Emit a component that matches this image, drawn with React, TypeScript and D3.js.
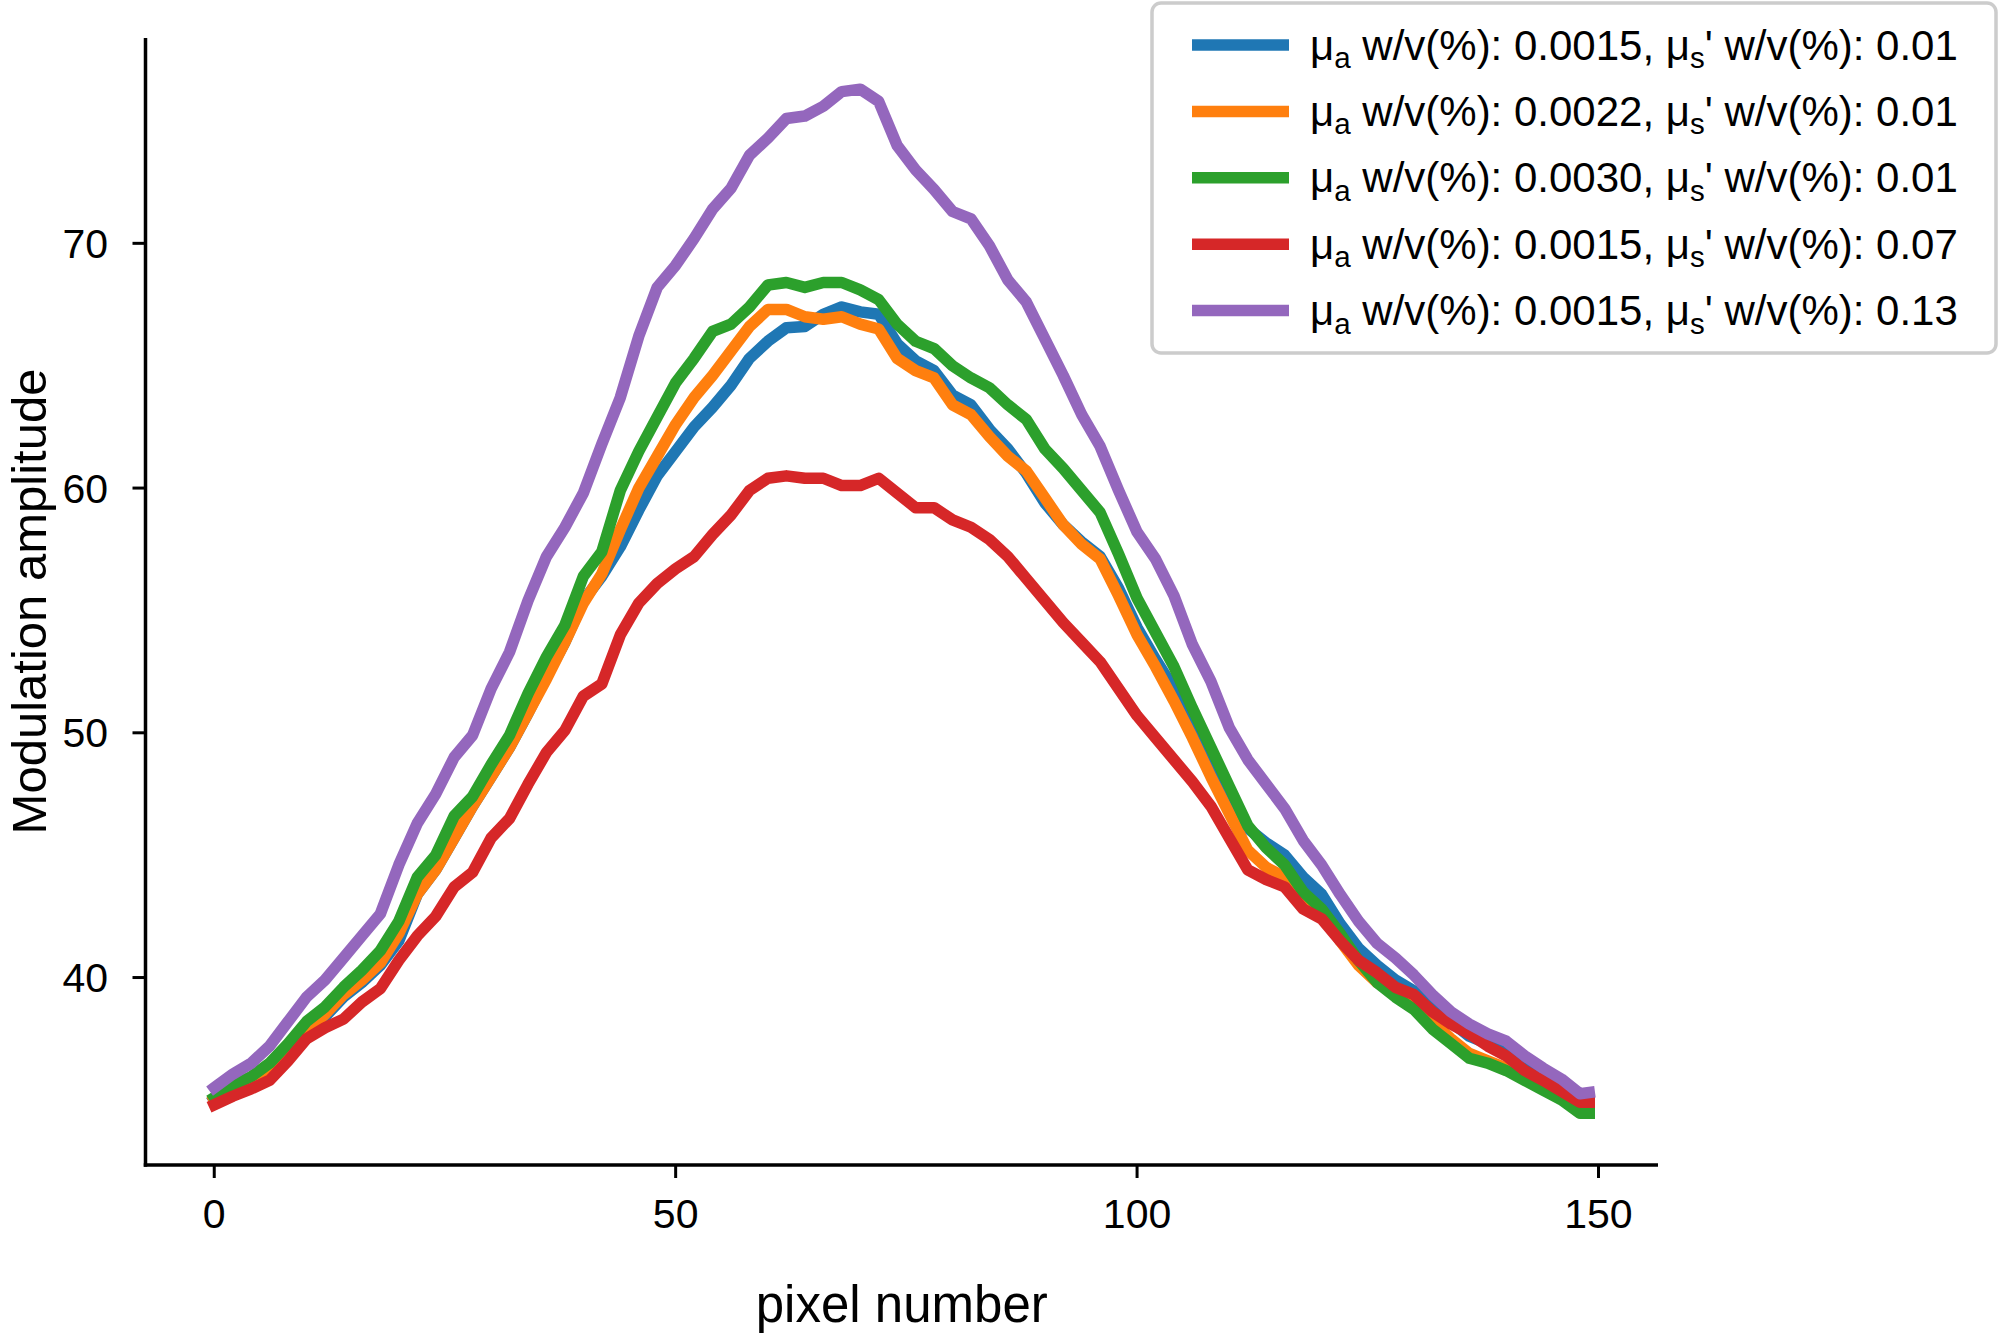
import React from 'react';
import * as d3 from 'd3';

const pixelIndex = [0,2,4,6,8,10,12,14,16,18,20,22,24,26,28,30,32,34,36,38,40,42,44,46,48,50,52,54,56,58,60,62,64,66,68,70,72,74,76,78,80,82,84,86,88,90,92,94,96,98,100,102,104,106,108,110,112,114,116,118,120,122,124,126,128,130,132,134,136,138,140,142,144,146,148,149];

const seriesMua0015Mus001 = [35.0,35.5,35.9,36.4,37.2,37.9,38.4,39.2,39.8,40.5,
  41.5,43.4,44.4,45.7,47.0,48.2,49.4,50.8,52.3,53.7,
  55.4,56.4,57.6,59.1,60.5,61.5,62.5,63.3,64.2,65.3,
  66.0,66.55,66.6,67.1,67.4,67.2,67.1,65.9,65.2,64.8,
  63.8,63.4,62.4,61.6,60.6,59.4,58.5,57.8,57.2,55.9,
  54.3,53.0,51.8,50.3,48.8,47.6,46.1,45.5,45.0,44.1,
  43.4,42.2,41.2,40.5,39.9,39.45,38.8,38.2,37.6,37.3,
  36.9,36.4,35.9,35.5,35.0,35.0];

const seriesMua0022Mus001 = [35.0,35.4,35.8,36.3,37.1,37.8,38.5,39.3,39.9,40.6,
  41.8,43.4,44.4,45.7,47.0,48.2,49.4,50.8,52.2,53.7,
  55.3,56.5,58.3,60.0,61.3,62.6,63.7,64.6,65.6,66.6,
  67.3,67.3,67.0,66.9,67.0,66.7,66.5,65.3,64.8,64.5,
  63.4,63.0,62.1,61.3,60.7,59.6,58.5,57.7,57.1,55.6,
  54.0,52.7,51.3,49.8,48.2,46.7,45.2,44.5,44.1,43.3,
  42.6,41.5,40.5,39.8,39.4,38.9,38.2,37.5,36.9,36.6,
  36.3,35.9,35.5,35.1,34.8,34.8];

const seriesMua0030Mus001 = [35.1,35.6,35.95,36.5,37.3,38.2,38.8,39.6,40.3,41.1,
  42.3,44.1,45.0,46.6,47.4,48.7,49.9,51.6,53.1,54.4,
  56.4,57.4,59.9,61.5,62.9,64.3,65.3,66.4,66.7,67.4,
  68.3,68.4,68.2,68.4,68.4,68.1,67.7,66.7,66.0,65.7,
  65.0,64.5,64.1,63.4,62.8,61.6,60.8,59.9,59.0,57.3,
  55.5,54.1,52.7,51.0,49.4,47.8,46.2,45.3,44.6,43.5,
  42.8,41.8,40.7,39.8,39.2,38.7,37.9,37.3,36.7,36.5,
  36.2,35.8,35.4,35.0,34.45,34.45];

const seriesMua0015Mus007 = [34.8,35.15,35.45,35.8,36.6,37.5,37.95,38.3,39.0,39.55,
  40.7,41.7,42.5,43.7,44.3,45.7,46.5,47.9,49.2,50.1,
  51.5,52.0,54.0,55.3,56.1,56.7,57.2,58.1,58.9,59.9,
  60.4,60.5,60.4,60.4,60.1,60.1,60.4,59.8,59.2,59.2,
  58.7,58.4,57.9,57.2,56.3,55.4,54.5,53.7,52.9,51.8,
  50.7,49.8,48.9,48.0,47.0,45.7,44.4,44.0,43.7,42.8,
  42.4,41.5,40.7,40.2,39.6,39.3,38.6,38.1,37.7,37.2,
  36.8,36.2,35.8,35.35,34.9,34.9];

const seriesMua0015Mus013 = [35.5,36.05,36.5,37.2,38.2,39.2,39.9,40.8,41.7,42.6,
  44.6,46.3,47.5,49.0,49.9,51.8,53.3,55.4,57.2,58.4,
  59.8,61.8,63.7,66.2,68.2,69.1,70.2,71.4,72.25,73.6,
  74.3,75.1,75.2,75.6,76.2,76.3,75.8,74.0,73.0,72.2,
  71.3,71.0,69.9,68.5,67.6,66.1,64.6,63.0,61.7,59.9,
  58.2,57.1,55.6,53.6,52.1,50.2,48.9,47.9,46.9,45.6,
  44.6,43.4,42.3,41.4,40.8,40.1,39.3,38.6,38.1,37.7,
  37.4,36.8,36.3,35.85,35.25,35.3];

const seriesValues = [seriesMua0015Mus001, seriesMua0022Mus001, seriesMua0030Mus001, seriesMua0015Mus007, seriesMua0015Mus013];
const muaLabels = ['0.0015', '0.0022', '0.0030', '0.0015', '0.0015'];
const musLabels = ['0.01', '0.01', '0.01', '0.07', '0.13'];
const seriesColors = ['#1f77b4', '#ff7f0e', '#2ca02c', '#d62728', '#9467bd'];
const xTicks = [0, 50, 100, 150];
const yTicks = [40, 50, 60, 70];
const xLabel = 'pixel number';
const yLabel = 'Modulation amplitude';

const FONT = '"Liberation Sans", Arial, Helvetica, sans-serif';

export default function App() {
  const W = 2000, H = 1335;
  const left = 145.5, right = 1658, top = 38, bottom = 1165;
  const xScale = d3.scaleLinear().domain([-7.45, 156.45]).range([left, right]);
  const yScale = d3.scaleLinear().domain([32.34, 78.39]).range([bottom, top]);
  const line = d3.line<[number, number]>().x(d => xScale(d[0])).y(d => yScale(d[1]));

  const legendX = 1152, legendY = 3, legendW = 844, legendH = 350;
  const rowY = (i: number) => 45 + i * 66.4;

  return (
    <svg width={W} height={H} style={{ position: 'absolute', left: 0, top: 0 }} fontFamily={FONT}>
      <rect x={0} y={0} width={W} height={H} fill="#ffffff" />
      {seriesValues.map((vals, si) => (
        <path key={si}
          d={line(pixelIndex.map((x, i) => [x, vals[i]] as [number, number])) || ''}
          fill="none" stroke={seriesColors[si]} strokeWidth={11.5}
          strokeLinejoin="round" strokeLinecap="square" />
      ))}
      {/* spines */}
      <line x1={left} x2={left} y1={top} y2={bottom + 1.75} stroke="#000" strokeWidth={3.5} strokeLinecap="butt" />
      <line x1={left - 1.75} x2={right} y1={bottom} y2={bottom} stroke="#000" strokeWidth={3.5} strokeLinecap="butt" />
      {/* x ticks */}
      {xTicks.map(t => (
        <g key={'x' + t}>
          <line x1={xScale(t)} x2={xScale(t)} y1={bottom} y2={bottom + 13} stroke="#000" strokeWidth={3} />
          <text x={xScale(t)} y={1228} textAnchor="middle" fontSize={41} fill="#000">{t}</text>
        </g>
      ))}
      {/* y ticks */}
      {yTicks.map(t => (
        <g key={'y' + t}>
          <line x1={left - 13} x2={left} y1={yScale(t)} y2={yScale(t)} stroke="#000" strokeWidth={3} />
          <text x={108} y={yScale(t) + 14.5} textAnchor="end" fontSize={41} fill="#000">{t}</text>
        </g>
      ))}
      <text x={(left + right) / 2} y={1322} textAnchor="middle" fontSize={51} fill="#000">{xLabel}</text>
      <text transform={`translate(46, ${(top + bottom) / 2}) rotate(-90)`} textAnchor="middle" fontSize={49} fill="#000">{yLabel}</text>
      {/* legend */}
      <rect x={legendX} y={legendY} width={legendW} height={legendH} rx={9} ry={9}
        fill="#ffffff" fillOpacity={0.8} stroke="#cccccc" strokeWidth={3.5} />
      {seriesColors.map((c, i) => (
        <g key={'lg' + i}>
          <line x1={1192} x2={1289} y1={rowY(i)} y2={rowY(i)} stroke={c} strokeWidth={11.5} strokeLinecap="butt" />
          <text x={1310} y={rowY(i) + 14.5} fontSize={42} fill="#000">
            <tspan>μ</tspan>
            <tspan fontSize={29.5} dy={8.5}>a</tspan>
            <tspan dy={-8.5}>{` w/v(%): ${muaLabels[i]}, μ`}</tspan>
            <tspan fontSize={29.5} dy={8.5}>s</tspan>
            <tspan dy={-8.5}>{`' w/v(%): ${musLabels[i]}`}</tspan>
          </text>
        </g>
      ))}
    </svg>
  );
}
